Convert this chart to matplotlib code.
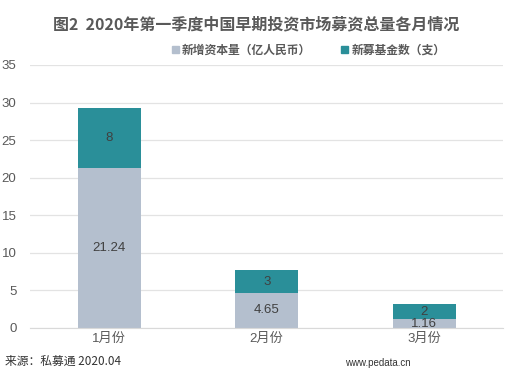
import numpy as np
import matplotlib
matplotlib.use("Agg")
import matplotlib.pyplot as plt
from matplotlib.patches import Patch

plt.rcParams['font.family'] = ['Liberation Sans', 'Noto Sans CJK SC', 'DejaVu Sans']
cjk = ['Noto Sans CJK SC', 'DejaVu Sans']

months = ["1月份", "2月份", "3月份"]
capital = [21.24, 4.65, 1.16]      # 新增资本量（亿人民币）
funds = [8, 3, 2]                  # 新募基金数（支）
yticks = [0, 5, 10, 15, 20, 25, 30, 35]

c_cap = "#B4BFCE"
c_fund = "#2A8F99"
txt = "#595959"

fig = plt.figure(figsize=(5.23, 3.80), dpi=100)
ax = fig.add_axes([0.058, 0.137, 0.904, 0.692])

x = np.arange(len(months))
w = 0.4
ax.bar(x, capital, width=w, color=c_cap, zorder=2)
ax.bar(x, funds, width=w, bottom=capital, color=c_fund, zorder=2)

for i in range(len(months)):
    ax.text(x[i], capital[i] / 2, f"{capital[i]:.2f}", ha="center", va="center",
            fontsize=9.5, color="#404040", zorder=3)
    ax.text(x[i], capital[i] + funds[i] / 2, str(funds[i]), ha="center", va="center",
            fontsize=9.5, color="#404040", zorder=3)

ax.set_xlim(-0.5, 2.5)
ax.set_ylim(0, 35)
ax.set_yticks(yticks)
ax.set_xticks(x)
ax.set_xticklabels(months)
ax.yaxis.grid(True, color="#E3E3E3", linewidth=0.9, zorder=0)
for s in ["top", "right", "left"]:
    ax.spines[s].set_visible(False)
ax.spines["bottom"].set_color("#D9D9D9")
ax.tick_params(axis="both", length=0, labelsize=9.5, colors=txt)
ax.tick_params(axis="y", pad=10)

fig.text(0.49, 0.935, "图2  2020年第一季度中国早期投资市场募资总量各月情况", ha="center", va="center",
         fontsize=11.5, fontweight="bold", color=txt, family=cjk)

handles = [Patch(color=c_cap), Patch(color=c_fund)]
fig.legend(handles, ["新增资本量（亿人民币）", "新募基金数（支）"], loc="center",
           bbox_to_anchor=(0.59, 0.868), ncol=2, frameon=False,
           handlelength=0.6, handleheight=0.6, columnspacing=2.5, handletextpad=0.3,
           labelcolor=txt, prop={'weight': 'bold', 'size': 8.5, 'family': cjk})

fig.text(0.01, 0.048, "来源：私募通 2020.04", ha="left", va="center", fontsize=8.5,
         color="#333333", family=cjk)
fig.text(0.66, 0.045, "www.pedata.cn", ha="left", va="center", fontsize=7, color="#333333")

fig.savefig("out.png", dpi=100)
